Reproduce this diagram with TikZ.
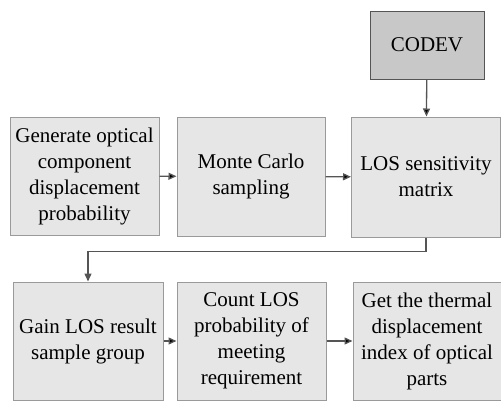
\documentclass[tikz,border=0pt]{standalone}
\usepackage{fontspec}
\setmainfont{Liberation Serif}
\usepackage{xcolor}
\usepackage{tikz}
\usetikzlibrary{arrows.meta,positioning}

\definecolor{boxfill}{HTML}{E6E6E6}
\definecolor{codevfill}{HTML}{C8C8C8}
\definecolor{boxline}{HTML}{9A9A9A}
\definecolor{arrowline}{HTML}{555555}

\begin{document}
\begin{tikzpicture}[x=1pt,y=-1pt,
	stepbox/.style={draw=boxline,fill=boxfill,line width=1pt,align=center,inner sep=0pt,
		font=\fontsize{21}{26}\selectfont},
	flow/.style={-{Triangle[length=8pt,width=7pt]},draw=arrowline,line width=1.3pt}]
	\useasboundingbox (0,0) rectangle (501,402);
	\node [stepbox,fill=codevfill,draw=arrowline,minimum width=114pt,minimum height=68pt] at (427,45) (codev) {CODEV};
	\node [stepbox,minimum width=149pt,minimum height=118pt] at (84.5,176) (gen) {Generate optical\\component\\displacement\\probability};
	\node [stepbox,minimum width=148pt,minimum height=119pt] at (251,176.5) (mc) {Monte Carlo\\sampling};
	\node [stepbox,minimum width=149pt,minimum height=120pt] at (426,177) (sens) {LOS sensitivity\\matrix};
	\node [stepbox,minimum width=150pt,minimum height=118pt] at (88,341) (gain) {Gain LOS result\\sample group};
	\node [stepbox,minimum width=149pt,minimum height=118pt] at (251.5,341) (count) {Count LOS\\probability of\\meeting\\requirement};
	\node [stepbox,minimum width=148pt,minimum height=118pt] at (427,341) (index) {Get the thermal\\displacement\\index of optical\\parts};

	\path[flow]
	(codev) edge (sens)
	(gen) edge (mc)
	(mc) edge (sens)
	(gain) edge (count)
	(count) edge (index);
	\draw[flow] (sens.south) -- ++(0,14) -| (gain.north);
\end{tikzpicture}
\end{document}
